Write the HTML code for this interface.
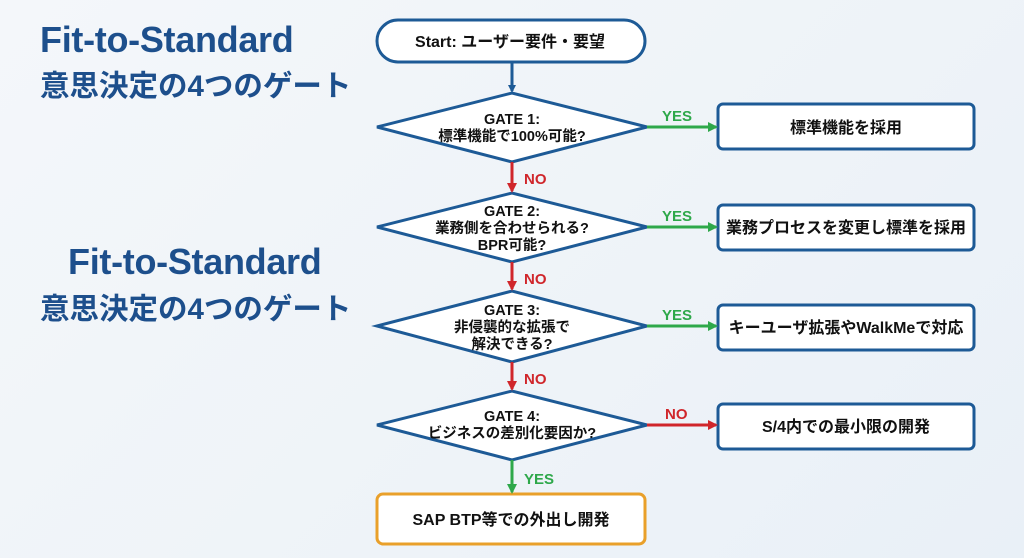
<!DOCTYPE html>
<html><head><meta charset="utf-8"><style>
body{margin:0;width:1024px;height:558px;overflow:hidden;background:linear-gradient(135deg,#f4f7fa,#eef3f8 60%,#e9f0f7);font-family:"Liberation Sans","Noto Sans CJK JP",sans-serif;}
.t{position:absolute;color:#1d4f8c;font-weight:bold;white-space:nowrap}
</style></head><body>
<div class="t" style="left:40px;top:19px;font-size:36px;letter-spacing:-0.3px">Fit-to-Standard</div>
<div class="t" style="left:40px;top:63px;font-size:29.5px">意思決定の4つのゲート</div>
<div class="t" style="left:68px;top:241px;font-size:36px;letter-spacing:-0.3px">Fit-to-Standard</div>
<div class="t" style="left:40px;top:286px;font-size:29.5px">意思決定の4つのゲート</div>
<svg width="1024" height="558" style="position:absolute;left:0;top:0" font-family="Liberation Sans, Noto Sans CJK JP, sans-serif" font-weight="bold">
<defs>
<marker id="b" markerWidth="8" markerHeight="8" refX="6" refY="4" orient="auto" markerUnits="userSpaceOnUse"><path d="M0,0L8,4L0,8z" fill="#1d5a96"/></marker>
<marker id="g" markerWidth="10" markerHeight="10" refX="8" refY="5" orient="auto" markerUnits="userSpaceOnUse"><path d="M0,0L10,5L0,10z" fill="#2ea84a"/></marker>
<marker id="r" markerWidth="10" markerHeight="10" refX="8" refY="5" orient="auto" markerUnits="userSpaceOnUse"><path d="M0,0L10,5L0,10z" fill="#d0262b"/></marker>
</defs>
<g stroke="#1d5a96" stroke-width="3" fill="#fff">
<rect x="377" y="20" width="268" height="42" rx="21"/>
<polygon points="377,127 512,93 647,127 512,162"/>
<polygon points="377,227 512,193 647,227 512,262"/>
<polygon points="377,326 512,291 647,326 512,362"/>
<polygon points="377,425 512,391 647,425 512,460"/>
<rect x="718" y="104" width="256" height="45" rx="5"/>
<rect x="718" y="205" width="256" height="45" rx="5"/>
<rect x="718" y="305" width="256" height="45" rx="5"/>
<rect x="718" y="404" width="256" height="45" rx="5"/>
</g>
<rect x="377" y="494" width="268" height="50" rx="6" fill="#fff" stroke="#e9a02a" stroke-width="3"/>
<line x1="512" y1="62" x2="512" y2="91" stroke="#1d5a96" stroke-width="3" marker-end="url(#b)"/>
<g stroke="#d0262b" stroke-width="3">
<line x1="512" y1="162" x2="512" y2="191" marker-end="url(#r)"/>
<line x1="512" y1="262" x2="512" y2="289" marker-end="url(#r)"/>
<line x1="512" y1="362" x2="512" y2="389" marker-end="url(#r)"/>
<line x1="647" y1="425" x2="716" y2="425" marker-end="url(#r)"/>
</g>
<g stroke="#2ea84a" stroke-width="3">
<line x1="647" y1="127" x2="716" y2="127" marker-end="url(#g)"/>
<line x1="647" y1="227" x2="716" y2="227" marker-end="url(#g)"/>
<line x1="647" y1="326" x2="716" y2="326" marker-end="url(#g)"/>
<line x1="512" y1="460" x2="512" y2="492" marker-end="url(#g)"/>
</g>
<g font-size="15" fill="#2ea84a"><text x="662" y="121">YES</text><text x="662" y="221">YES</text><text x="662" y="320">YES</text><text x="524" y="484">YES</text></g>
<g font-size="15" fill="#d0262b"><text x="524" y="184">NO</text><text x="524" y="284">NO</text><text x="524" y="384">NO</text><text x="665" y="419">NO</text></g>
<g fill="#111" text-anchor="middle" font-size="14.5">
<text x="510" y="47" font-size="16">Start: ユーザー要件・要望</text>
<text x="512" y="124">GATE 1:</text><text x="512" y="141">標準機能で100%可能?</text>
<text x="512" y="216">GATE 2:</text><text x="512" y="233">業務側を合わせられる?</text><text x="512" y="250">BPR可能?</text>
<text x="512" y="315">GATE 3:</text><text x="512" y="332">非侵襲的な拡張で</text><text x="512" y="349">解決できる?</text>
<text x="512" y="421">GATE 4:</text><text x="512" y="438">ビジネスの差別化要因か?</text>
<g font-size="16"><text x="846" y="133">標準機能を採用</text><text x="846" y="233">業務プロセスを変更し標準を採用</text><text x="846" y="333">キーユーザ拡張やWalkMeで対応</text><text x="846" y="432">S/4内での最小限の開発</text>
<text x="511" y="525">SAP BTP等での外出し開発</text></g>
</g>
</svg>
</body></html>
